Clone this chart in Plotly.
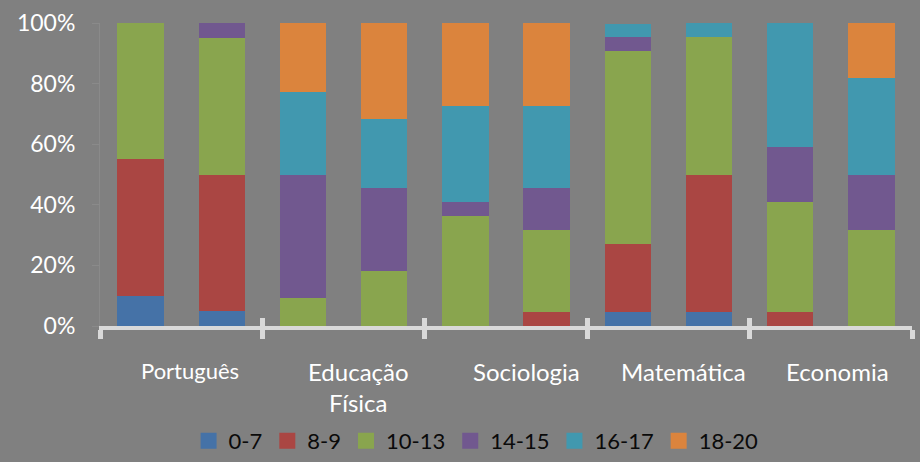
import plotly.graph_objects as go

subjects = ["Português", "Educação<br>Física", "Sociologia", "Matemática", "Economia"]
bar_x = list(range(10))
series_names = ["0-7", "8-9", "10-13", "14-15", "16-17", "18-20"]
s_0_7 = [10, 5, 0, 0, 0, 0, 4.5, 4.5, 0, 0]
s_8_9 = [45, 45, 0, 0, 0, 4.5, 22.7, 45.5, 4.5, 0]
s_10_13 = [45, 45, 9.1, 18.2, 36.4, 27.3, 63.6, 45.5, 36.4, 31.8]
s_14_15 = [0, 5, 40.9, 27.3, 4.5, 13.6, 4.5, 0, 18.2, 18.2]
s_16_17 = [0, 0, 27.3, 22.7, 31.8, 27.3, 4.5, 4.5, 40.9, 31.8]
s_18_20 = [0, 0, 22.7, 31.8, 27.3, 27.3, 0, 0, 0, 18.2]
y_ticks = [0, 20, 40, 60, 80, 100]
y_tick_labels = ["0%", "20%", "40%", "60%", "80%", "100%"]

series = [s_0_7, s_8_9, s_10_13, s_14_15, s_16_17, s_18_20]
colors = ["#4572A7", "#AA4643", "#89A54E", "#71588F", "#4198AF", "#DB843D"]

FONT = "Lato"
BG = "#808080"
AXIS = "#d9d9d9"

fig = go.Figure()
for name, vals, col in zip(series_names, series, colors):
    fig.add_trace(go.Bar(x=bar_x, y=vals, name=name, marker=dict(color=col, line=dict(width=0)),
                         width=0.57, showlegend=False))
for name, col in zip(series_names, colors):
    fig.add_trace(go.Scatter(x=[None], y=[None], mode="markers", name=name, xaxis="x2",
                             marker=dict(symbol="square", size=16, color=col), showlegend=True))

group_centers = [i * 2 + 0.5 for i in range(len(subjects))]
boundaries = [i * 2 - 0.5 for i in range(len(subjects) + 1)]
label_sizes = [22, 24, 24, 24, 24]
label_shift = [9, 15, 20, 15, 7]
for gx, txt, fs, sh in zip(group_centers, subjects, label_sizes, label_shift):
    fig.add_annotation(x=gx, y=-0.1, xref="x", yref="paper", text=txt, showarrow=False,
                       xanchor="center", yanchor="top", xshift=sh, borderpad=0,
                       font=dict(family=FONT, size=fs, color="white"))

fig.update_layout(
    width=920, height=462,
    paper_bgcolor=BG, plot_bgcolor=BG,
    barmode="stack",
    margin=dict(l=100, r=8, t=19, b=136),
    font=dict(family=FONT, color="white"),
    xaxis=dict(range=[-0.5, 9.5], showgrid=False, zeroline=False,
               showline=True, linecolor=AXIS, linewidth=4,
               tickmode="array", tickvals=boundaries, ticktext=[""] * len(boundaries),
               ticks="outside", ticklen=9, tickwidth=5, tickcolor=AXIS),
    xaxis2=dict(range=[-0.5, 9.5], overlaying="x", anchor="y", showgrid=False, zeroline=False,
                showline=False, tickmode="array", tickvals=boundaries, ticktext=[""] * len(boundaries),
                ticks="inside", ticklen=8, tickwidth=5, tickcolor=AXIS),
    yaxis=dict(range=[0, 100], tickmode="array", tickvals=y_ticks, ticktext=y_tick_labels,
               showgrid=False, zeroline=False, showline=True, linecolor="#8a8a8a", linewidth=1,
               ticks="outside", ticklen=7, tickcolor="#8a8a8a", ticklabelstandoff=12,
               tickfont=dict(family=FONT, size=23, color="white")),
    legend=dict(orientation="h", xref="container", yref="container", x=0.205, y=0.0,
                xanchor="left", yanchor="bottom", traceorder="normal",
                font=dict(family=FONT, size=22, color="#0a0a0a"), bgcolor="rgba(0,0,0,0)"),
)

fig.write_html("out.html", config={"displayModeBar": False},
               post_script="document.body.style.margin='0';document.body.style.overflow='hidden';")
